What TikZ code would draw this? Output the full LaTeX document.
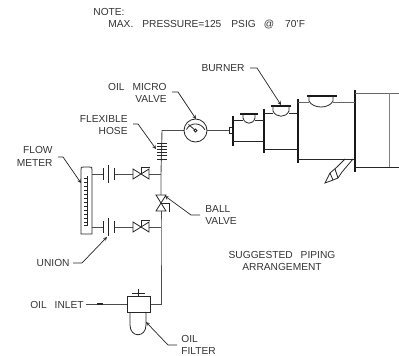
\documentclass[tikz,border=0pt]{standalone}
\usepackage{fontspec}
\setmainfont{Liberation Sans}
\begin{document}
\begin{tikzpicture}[x=1pt,y=-1pt,line width=0.8pt,color=black!85]
    \tikzstyle{txt}=[inner sep=0pt,font=\fontsize{10.2}{12}\selectfont,text=black!80]
    \tikzstyle{leader}=[line width=0.7pt,-stealth]
    \tikzstyle{pipe}=[line width=0.9pt,black!70]
    \tikzstyle{flange}=[line width=2pt,black!90]
    \useasboundingbox (0,0) rectangle (399,356);
    % texts
    \node[txt,anchor=west] (note1) at (93,12){NOTE:};
    \node[txt,anchor=west] (note2) at (108,25){MAX.\hspace{9pt}PRESSURE=125\hspace{10pt}PSIG\hspace{8pt}@\hspace{11pt}70'F};
    \node[txt,anchor=east] (micro1) at (167,87){OIL\hspace{8pt}MICRO};
    \node[txt] (micro2) at (151,99){VALVE};
    \node[txt,anchor=east] (hose1) at (128,119){FLEXIBLE};
    \node[txt,anchor=east] (hose2) at (128,131){HOSE};
    \node[txt,anchor=east] (flow1) at (53,150){FLOW};
    \node[txt,anchor=east] (flow2) at (53,163){METER};
    \node[txt,anchor=east] (burner) at (245,68){BURNER};
    \node[txt,anchor=west] (ball1) at (205,209){BALL};
    \node[txt,anchor=west] (ball2) at (205,221){VALVE};
    \node[txt,anchor=east] (union) at (70,263){UNION};
    \node[txt,anchor=east] (inlet) at (84,305){OIL\hspace{8pt}INLET};
    \node[txt,anchor=west] (filter1) at (181,339){OIL};
    \node[txt,anchor=west] (filter2) at (181,351){FILTER};
    \node[txt] (sug1) at (282,255){SUGGESTED\hspace{8pt}PIPING};
    \node[txt] (sug2) at (282,267){ARRANGEMENT};
    % pipe points
    \coordinate (g) at (195.5,130.5);
    \coordinate (top) at (162,130.5);
    \coordinate (t1) at (161,174);
    \coordinate (t2) at (161,227);
    \coordinate (c) at (161,304);
    \coordinate (f1) at (92,174);
    \coordinate (f2) at (92,227);
    \coordinate (v1) at (141,174);
    \coordinate (v2) at (141,227);
    \coordinate (v3) at (161,203);
    \coordinate (b1) at (103,174);
    \coordinate (b2) at (114,174);
    \coordinate (b3) at (103,227);
    \coordinate (b4) at (114,227);
    \coordinate (fl) at (127,304);
    \coordinate (fr) at (150,304);
    \coordinate (in) at (86,304);
    \coordinate (stub) at (229,130.5);
    % flow meter
    \draw (81,234) -- (81,170) .. controls (81,167) and (81,167) .. (84,167) -- (89,167)
      .. controls (92,167) and (92,167) .. (92,170) -- (92,234) -- cycle;
    \draw[line width=0.5pt] (87,176) -- (87,225) -- (84,225);
    \foreach \y in {178,182,...,222} \draw[line width=0.5pt] (84,\y) -- (87,\y);
    % unions and valves
    \draw[pipe] (f1) -- (b1);
    \draw[pipe] (b2) -- (133,174);
    \draw[pipe] (149,174) -- (t1);
    \draw[pipe] (f2) -- (b3);
    \draw[pipe] (b4) -- (133,227);
    \draw[pipe] (149,227) -- (t2);
    \foreach \u in {174,227} {
      \draw (103,\u-6) -- (103,\u+6);
      \draw[line width=1.1pt] (108.5,\u-9) -- (108.5,\u+9);
      \draw (114,\u-6) -- (114,\u+6);
    }
    \foreach \v in {v1,v2} {
      \draw (\v) ++(-8,-5) -- ++(16,10) -- ++(0,-10) -- ++(-16,10) -- cycle;
      \draw (\v) -- ++(0,-7) -- ++(9,0);
    }
    \draw (v3) ++(-5,-8) -- ++(10,16) -- ++(-10,0) -- ++(10,-16) -- cycle;
    \draw (v3) -- ++(8,0) -- ++(0,9);
    % main pipe
    \draw[pipe] (g) ++(-11.5,0) -- (top) -- (t1) -- (161,195);
    \draw[pipe] (161,211) -- (t2) -- (c) -- (fr);
    \foreach \y in {143,146.2,...,159.5} \draw[line width=1pt] (157,\y) -- (167,\y);
    % filter
    \draw (127,296) rectangle (150,312);
    \draw (130,312) -- (130,325) .. controls (130,338) and (146,338) .. (146,325) -- (146,312);
    \draw (138,296) -- (138,289);
    \draw (132,293) -- (145,293);
    \draw[pipe] (in) -- (fl);
    \draw[line width=1.8pt] (97,304) -- (103,304);
    % gauge
    \draw (g) circle (11.5);
    \draw (g) ++(-7,-6) -- ++(7,6);
    \draw[fill=white] (g) circle (1.5);
    \draw (g) ++(-9,-1) .. controls (190,122) and (201,122) .. (205,130);
    \draw[pipe] (g) ++(11.5,0) -- (stub);
    % burner
    \draw (229,127.5) rectangle (232,133.5);
    \draw[flange] (233,116) -- (233,146);
    \draw[flange] (264,109) -- (264,153);
    \draw[flange] (298,99) -- (298,163);
    \draw[flange] (355,90) -- (355,172);
    \draw (233,120) -- (243,120) (255,120) -- (264,120);
    \draw (233,141.5) -- (264,141.5);
    \draw (264,113) -- (273,113) (289,113) -- (298,113);
    \draw (264,149) -- (298,149);
    \draw[black!60] (298,102) -- (309,102) (333,102) -- (355,102);
    \draw (298,159) -- (354,159);
    \draw[black!60] (355,93) -- (399,93);
    \draw (355,167) -- (399,167);
    \draw[black!50] (389,93) -- (389,167);
    % cups
    \draw[flange,line width=1.3pt] (240,114) -- (258,114);
    \draw (243,114) -- (243,118) .. controls (245,125) and (253,125) .. (255,118) -- (255,114);
    \draw[flange,line width=1.5pt] (271,106) -- (291,106);
    \draw (273,106) -- (273,111) .. controls (276,118) and (286,118) .. (289,111) -- (289,106);
    \draw[flange,line width=1.5pt] (307,96) -- (337,96);
    \draw (309,96) -- (309,101) .. controls (313,109) and (329,109) .. (333,101) -- (333,96);
    % nozzle
    \draw (345,159) -- (337,167) -- (330,173) -- (325,183) -- (333,180)
      -- (338,178) -- (342,172) -- (353,159);
    \draw (330,173) -- (333,180) (335,169) -- (338,178);
    % leaders
    \coordinate (m1) at (172,92);
    \coordinate (m2) at (178,92);
    \coordinate (m3) at (196,119);
    \draw[leader] (m1) -- (m2) -- (m3);
    \coordinate (h1) at (133,124);
    \coordinate (h2) at (138,124);
    \coordinate (h3) at (156,149);
    \draw[leader] (h1) -- (h2) -- (h3);
    \coordinate (l1) at (58,157);
    \coordinate (l2) at (63,157);
    \coordinate (l3) at (81,183);
    \draw[leader] (l1) -- (l2) -- (l3);
    \coordinate (u1) at (73,263);
    \coordinate (u2) at (82,263);
    \coordinate (u3) at (107,237);
    \draw[leader] (u1) -- (u2) -- (u3);
    \coordinate (o1) at (177,345);
    \coordinate (o2) at (168,345);
    \coordinate (o3) at (146,322);
    \draw[leader] (o1) -- (o2) -- (o3);
    \coordinate (k1) at (200,215);
    \coordinate (k2) at (191,215);
    \coordinate (k3) at (165,196);
    \draw[leader] (k1) -- (k2) -- (k3);
    \coordinate (r1) at (250,68);
    \coordinate (r2) at (257,68);
    \coordinate (r3) at (281,105);
    \draw[leader] (r1) -- (r2) -- (r3);
\end{tikzpicture}
\end{document}
